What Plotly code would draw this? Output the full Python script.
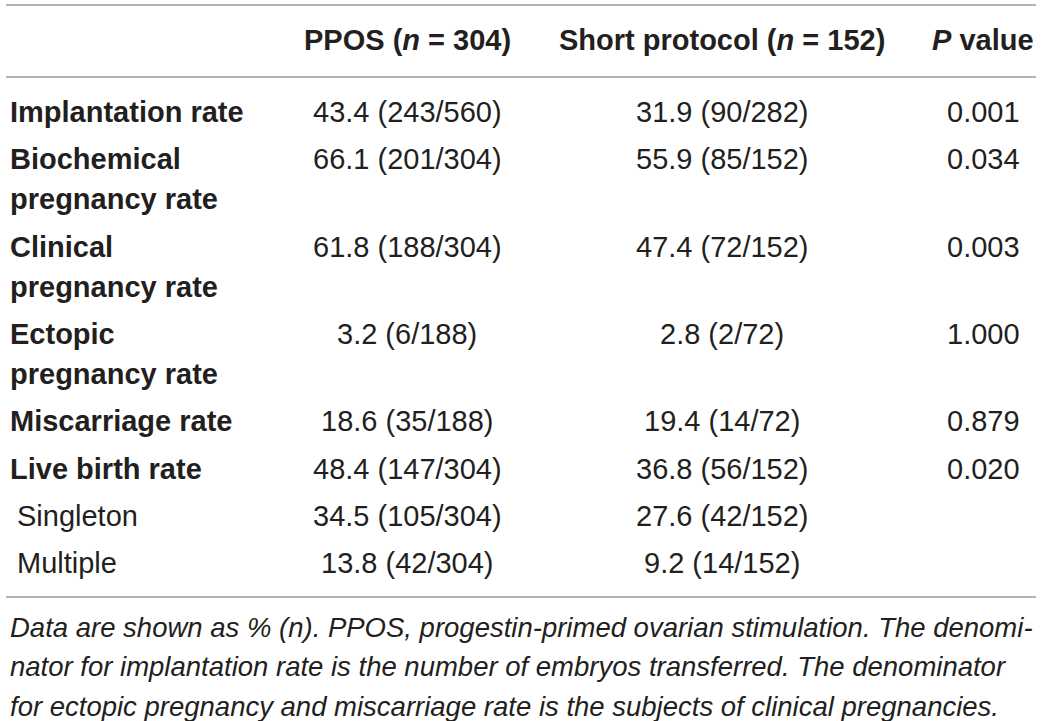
import plotly.graph_objects as go

# table content
headers = ["", "PPOS (<i>n</i> = 304)", "Short protocol (<i>n</i> = 152)", "<i>P</i> value"]
row_labels = [
    ["Implantation rate"],
    ["Biochemical", "pregnancy rate"],
    ["Clinical", "pregnancy rate"],
    ["Ectopic", "pregnancy rate"],
    ["Miscarriage rate"],
    ["Live birth rate"],
    ["Singleton"],
    ["Multiple"],
]
row_bold = [True, True, True, True, True, True, False, False]
ppos = ["43.4 (243/560)", "66.1 (201/304)", "61.8 (188/304)", "3.2 (6/188)",
        "18.6 (35/188)", "48.4 (147/304)", "34.5 (105/304)", "13.8 (42/304)"]
short_protocol = ["31.9 (90/282)", "55.9 (85/152)", "47.4 (72/152)", "2.8 (2/72)",
                  "19.4 (14/72)", "36.8 (56/152)", "27.6 (42/152)", "9.2 (14/152)"]
p_values = ["0.001", "0.034", "0.003", "1.000", "0.879", "0.020", "", ""]
footnote = [
    "Data are shown as % (<i>n</i>). PPOS, progestin-primed ovarian stimulation. The denomi-",
    "nator for implantation rate is the number of embryos transferred. The denominator",
    "for ectopic pregnancy and miscarriage rate is the subjects of clinical pregnancies.",
]

W, H = 1041, 721
FONT = "Liberation Sans, Arial, sans-serif"
TXT = "#231f20"
RULE = "#9a9a9a"

col_x = [8, 407, 722, 983]
header_y = 40
first_row_y = 112
row_gap = 47.3
line_gap = 40
rules_y = [5, 77, 597]

fig = go.Figure()
fig.add_trace(go.Scatter(x=[0, W], y=[0, H], mode="markers",
                         marker=dict(opacity=0), hoverinfo="skip", showlegend=False))

for y in rules_y:
    fig.add_shape(type="line", x0=6, x1=1036, y0=y, y1=y, line=dict(color=RULE, width=1.6))

for i, h in enumerate(headers):
    if h:
        fig.add_annotation(x=col_x[i], y=header_y, text="<b>" + h + "</b>", showarrow=False,
                           xanchor="center", yanchor="middle",
                           font=dict(family=FONT, size=29, color=TXT))

y = first_row_y
for i, lines in enumerate(row_labels):
    for k, line in enumerate(lines):
        txt = "<b>" + line + "</b>" if row_bold[i] else line
        fig.add_annotation(x=col_x[0] if row_bold[i] else col_x[0] + 7, y=y + k * line_gap,
                           text=txt, showarrow=False, xanchor="left", yanchor="middle",
                           font=dict(family=FONT, size=29, color=TXT))
    for j, val in enumerate([ppos[i], short_protocol[i], p_values[i]]):
        if val:
            fig.add_annotation(x=col_x[j + 1], y=y, text=val, showarrow=False,
                               xanchor="center", yanchor="middle",
                               font=dict(family=FONT, size=29, color=TXT))
    y += row_gap + (len(lines) - 1) * line_gap

for k, line in enumerate(footnote):
    fig.add_annotation(x=8, y=627 + k * 39.5, text="<i>" + line + "</i>", showarrow=False,
                       xanchor="left", yanchor="middle",
                       font=dict(family=FONT, size=27.5, color=TXT))

fig.update_xaxes(range=[0, W], visible=False, fixedrange=True)
fig.update_yaxes(range=[H, 0], visible=False, fixedrange=True)
fig.update_layout(width=W, height=H, margin=dict(l=0, r=0, t=0, b=0),
                  plot_bgcolor="white", paper_bgcolor="white", showlegend=False)

# drop the default page margin so the figure fills the window exactly
fig.write_html("out.html", config={"displayModeBar": False},
               post_script="document.body.style.margin='0';")
